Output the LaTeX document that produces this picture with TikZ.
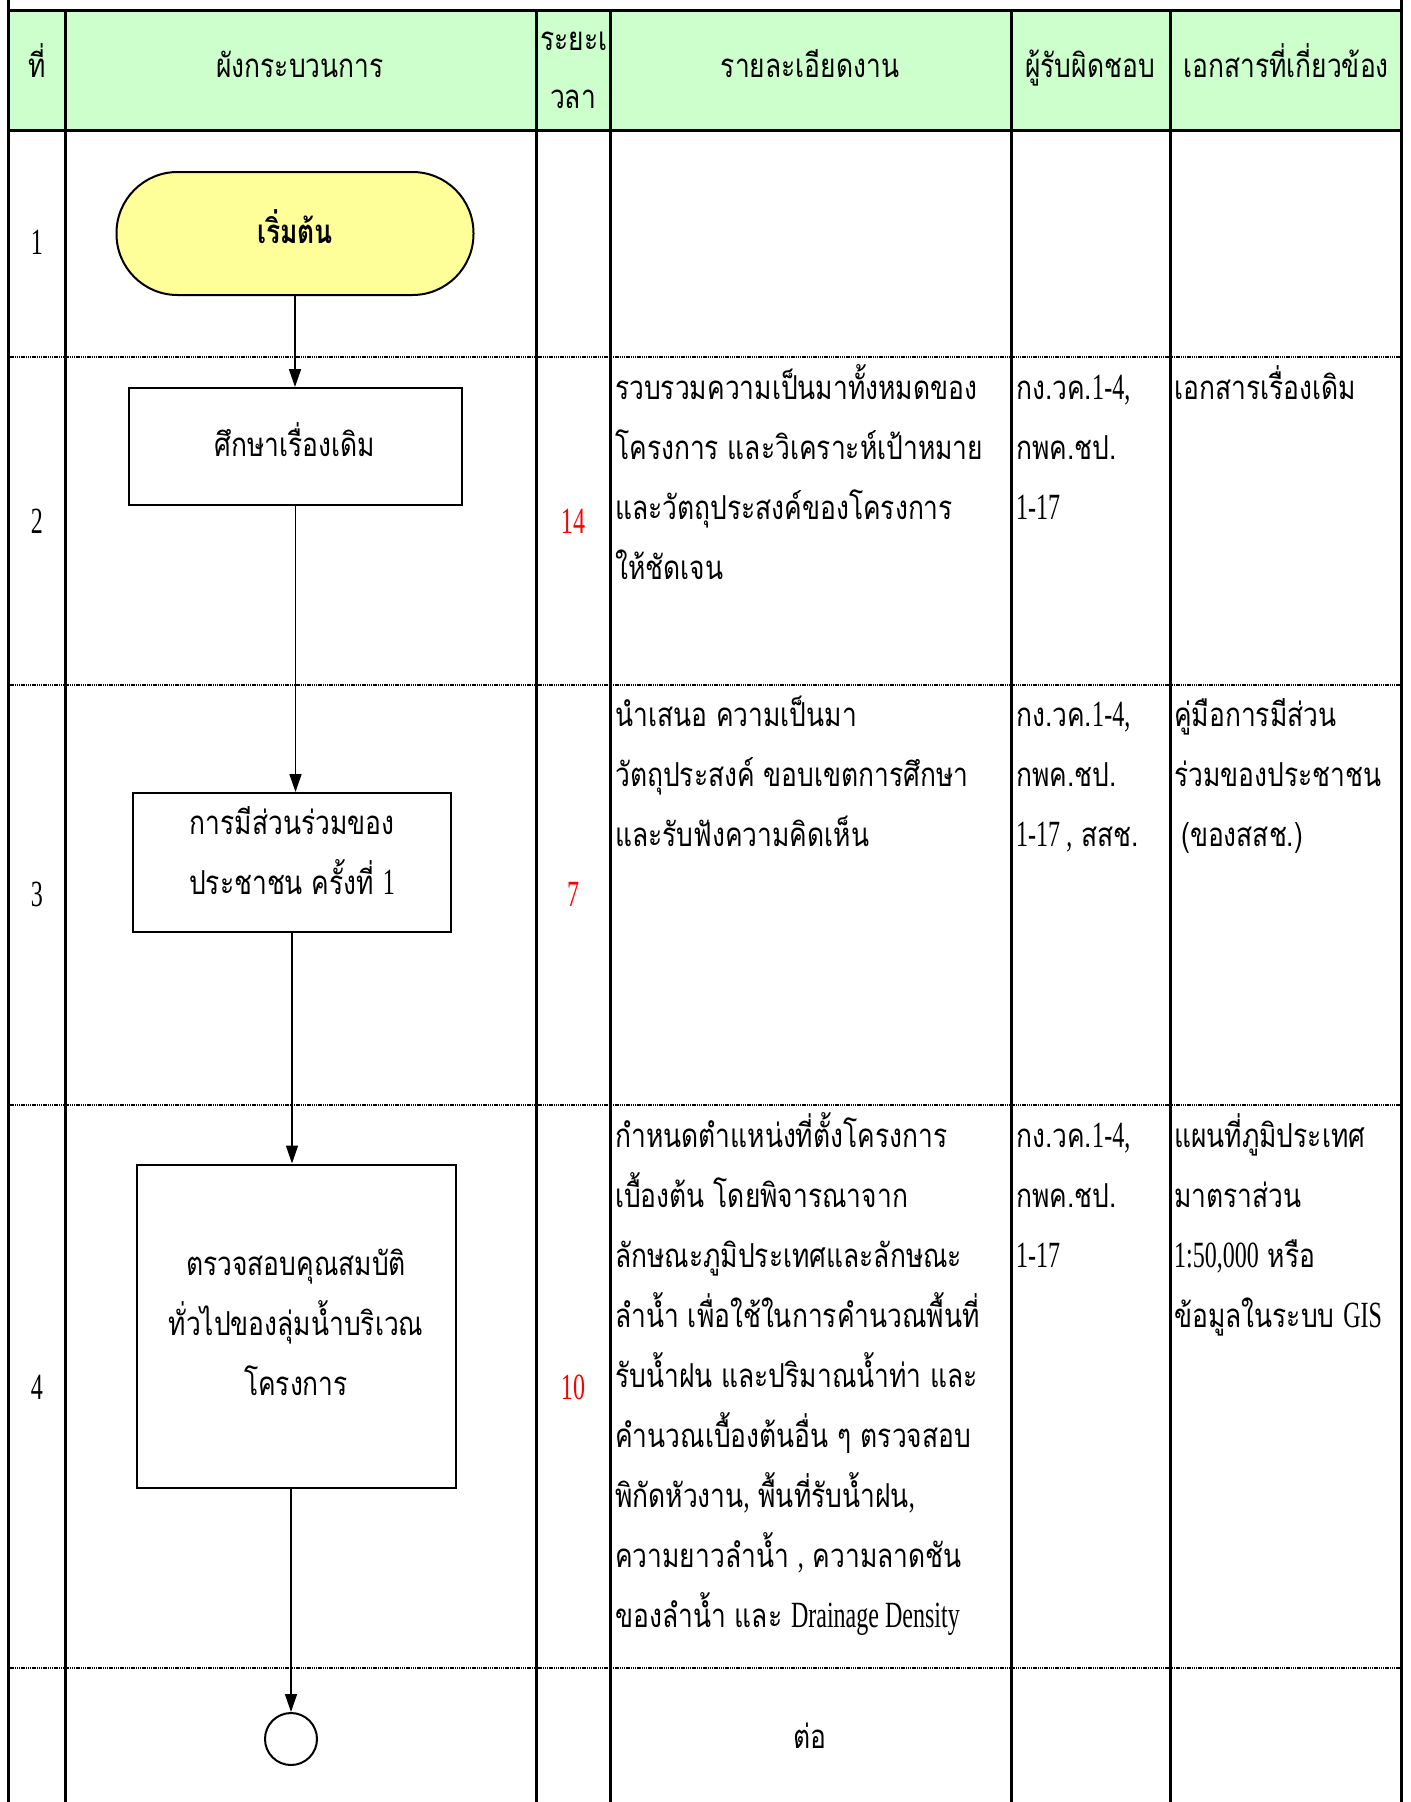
\documentclass[tikz,border=0pt]{standalone}
\usepackage{fontspec}
\usetikzlibrary{arrows.meta}
\setmainfont[Script=Thai,FakeStretch=0.8]{Loma}
\newfontfamily\latf[FakeStretch=0.65,Scale=1.12]{Liberation Serif}
\newcommand\lat[1]{{\latf #1}}
\newcommand\cellbox[1]{\parbox[t]{380pt}{\raggedright #1}}
\newcommand\midbox[1]{\parbox[t]{330pt}{\centering #1}}
\definecolor{headgreen}{HTML}{CCFFCC}
\definecolor{termyellow}{HTML}{FFFF99}
\begin{document}
\begin{tikzpicture}[x=1pt,y=-1pt,
  txt/.style={font=\fontsize{33}{60}\selectfont, inner sep=0pt, yshift=-7pt},
  cell/.style={txt, anchor=mid west},
  lbl/.style={txt, anchor=mid},
  days/.style={txt, anchor=mid, text=red},
  grid/.style={line width=3pt},
  sep/.style={line width=2.5pt, dash pattern=on 1.3pt off 0.9pt},
  proc/.style={draw, line width=2pt, fill=white, inner sep=0pt},
  flow/.style={line width=1.6pt, -{Triangle[width=12pt,length=18pt]}},
]
\useasboundingbox (0,0) rectangle (1411,1802);

% header band
\fill[headgreen] (8,10) rectangle (1401,130);

% dotted row separators
\foreach \yy in {357,685,1105,1668}
  \draw[sep] (8,\yy) -- (1401,\yy);

% table rules
\draw[grid] (8,0) -- (8,1802);
\draw[grid] (1401,0) -- (1401,1802);
\draw[grid] (8,10) -- (1401,10);
\draw[grid] (8,130) -- (1401,130);
\foreach \xx in {65,536,610,1011,1170}
  \draw[grid] (\xx,10) -- (\xx,1802);

% header texts
\node[lbl] (hNo)   at (37,68)   {ที่};
\node[lbl] (hFlow) at (300,68)  {ผังกระบวนการ};
\begin{scope}
  \clip (537,12) rectangle (609,128);
  \node[txt, anchor=mid west] (hTime1) at (540,41) {ระยะเ};
  \node[lbl] (hTime2) at (573,99) {วลา};
\end{scope}
\node[lbl] (hDet)  at (810,68)  {รายละเอียดงาน};
\node[lbl] (hResp) at (1090,68) {ผู้รับผิดชอบ};
\node[lbl] (hDoc)  at (1286,68) {เอกสารที่เกี่ยวข้อง};

% row numbers
\node[lbl] (n1) at (37,245)  {\lat{1}};
\node[lbl] (n2) at (37,524)  {\lat{2}};
\node[lbl] (n3) at (37,897)  {\lat{3}};
\node[lbl] (n4) at (37,1390) {\lat{4}};

% durations
\node[days] (d2) at (573,524)  {\lat{14}};
\node[days] (d3) at (573,897)  {\lat{7}};
\node[days] (d4) at (573,1390) {\lat{10}};

% flow chart shapes
\node[draw, line width=2pt, fill=termyellow, rounded corners=61pt,
      minimum width=357pt, minimum height=123pt] (start) at (295,233.5) {};
\node[proc, minimum width=333pt, minimum height=117pt] (study) at (295.5,446.5) {};
\node[proc, minimum width=318pt, minimum height=139pt] (public) at (292,862.5) {};
\node[proc, minimum width=319pt, minimum height=323pt] (basin) at (296,1326) {};
\node[draw, circle, line width=2pt, minimum size=52pt, inner sep=0pt] (cont) at (291,1739) {};

% flow chart texts
\node[lbl, font=\fontsize{33}{60}\selectfont\bfseries] (startTxt) at (start.center) {เริ่มต้น};
\node[lbl] (studyTxt) at (295,447) {ศึกษาเรื่องเดิม};
\node[lbl] (publicTxt) at (292,825) {\midbox{การมีส่วนร่วมของ\\ประชาชน ครั้งที่ \lat{1}}};
\node[lbl] (basinTxt) at (296,1266) {\midbox{ตรวจสอบคุณสมบัติ\\ทั่วไปของลุ่มน้ำบริเวณ\\โครงการ}};

% connectors
\draw[flow] (start.south) -- (start.south |- study.north);
\draw[flow] (study.south) -- (study.south |- public.north);
\draw[flow] (public.south) -- (public.south |- basin.north);
\draw[flow] (basin.south -| cont.north) -- (cont.north);

% row 2 details
\node[cell] (det2) at (615,390) {\cellbox{รวบรวมความเป็นมาทั้งหมดของ\\โครงการ และวิเคราะห์เป้าหมาย\\และวัตถุประสงค์ของโครงการ\\ให้ชัดเจน}};
\node[cell] (resp2) at (1016,390) {\cellbox{กง.วค.\lat{1-4,}\\กพค.ชป.\\\lat{1-17}}};
\node[cell] (doc2) at (1174,390) {\cellbox{เอกสารเรื่องเดิม}};

% row 3 details
\node[cell] (det3) at (615,717) {\cellbox{นำเสนอ ความเป็นมา\\วัตถุประสงค์ ขอบเขตการศึกษา\\และรับฟังความคิดเห็น}};
\node[cell] (resp3) at (1016,717) {\cellbox{กง.วค.\lat{1-4,}\\กพค.ชป.\\\lat{1-17 ,} สสช.}};
\node[cell] (doc3) at (1174,717) {\cellbox{คู่มือการมีส่วน\\ร่วมของประชาชน\\\hspace*{7pt}(ของสสช.)}};

% row 4 details
\node[cell] (det4) at (615,1138) {\cellbox{กำหนดตำแหน่งที่ตั้งโครงการ\\เบื้องต้น โดยพิจารณาจาก\\ลักษณะภูมิประเทศและลักษณะ\\ลำน้ำ เพื่อใช้ในการคำนวณพื้นที่\\รับน้ำฝน และปริมาณน้ำท่า และ\\คำนวณเบื้องต้นอื่น ๆ ตรวจสอบ\\พิกัดหัวงาน\lat{,} พื้นที่รับน้ำฝน\lat{,}\\ความยาวลำน้ำ \lat{,} ความลาดชัน\\ของลำน้ำ และ \lat{Drainage Density}}};
\node[cell] (resp4) at (1016,1138) {\cellbox{กง.วค.\lat{1-4,}\\กพค.ชป.\\\lat{1-17}}};
\node[cell] (doc4) at (1174,1138) {\cellbox{แผนที่ภูมิประเทศ\\มาตราส่วน\\\lat{1:50,000} หรือ\\ข้อมูลในระบบ \lat{GIS}}};

% continuation row
\node[lbl] (next) at (810,1739) {ต่อ};
\end{tikzpicture}
\end{document}
